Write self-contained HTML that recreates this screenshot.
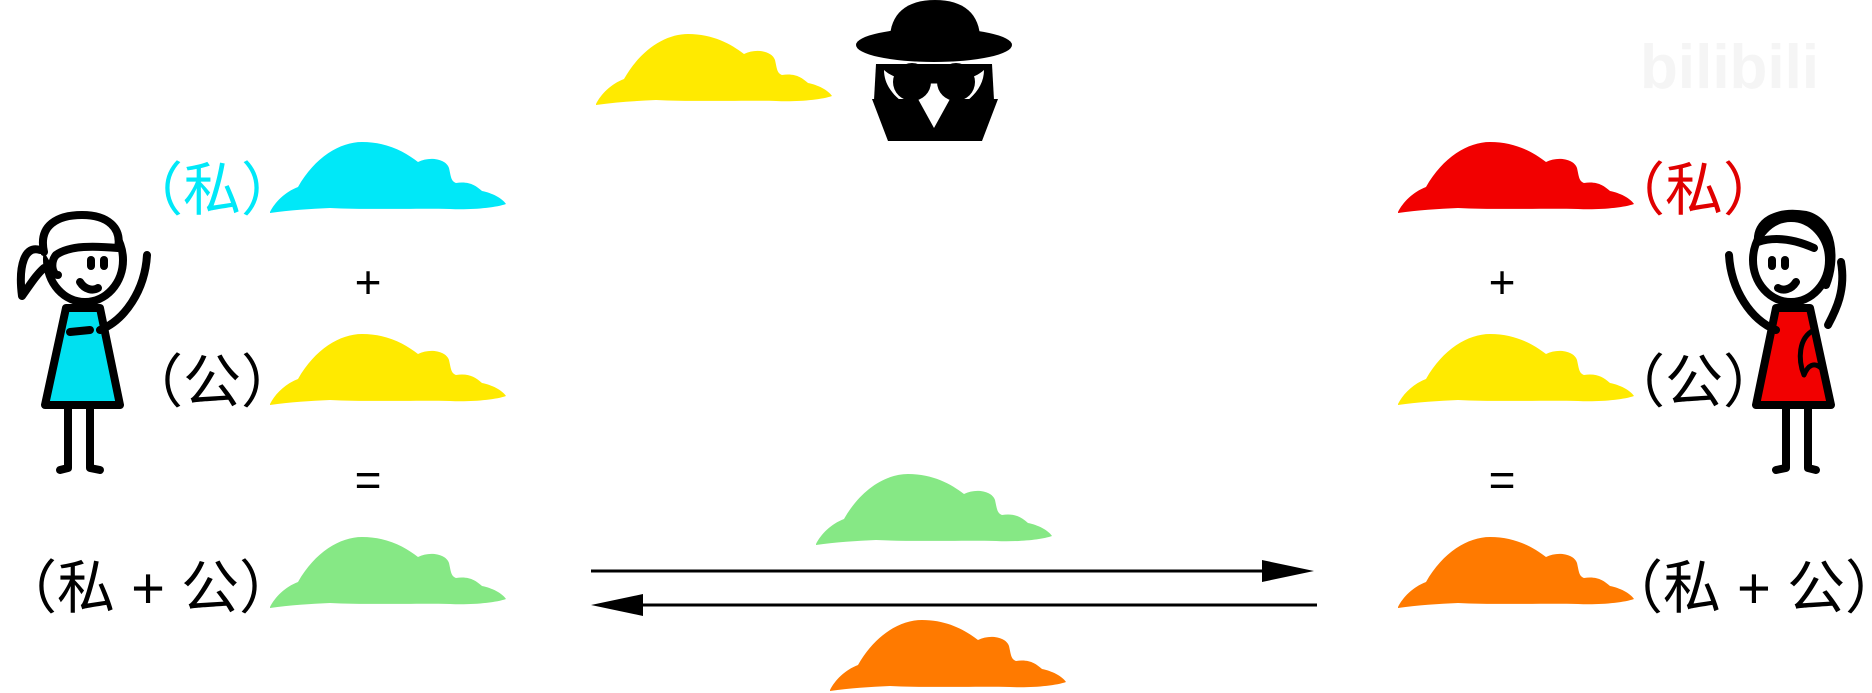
<!DOCTYPE html>
<html><head><meta charset="utf-8"><style>
html,body{margin:0;padding:0;background:#fff;width:1872px;height:693px;overflow:hidden}
svg{display:block}
text{font-family:"Liberation Sans","Noto Sans CJK SC",sans-serif}
</style></head><body>
<svg width="1872" height="693" viewBox="0 0 1872 693">
<defs>
<path id="blob" d="M0,70 C5,60 15,50 28,45 C45,15 70,0 92,0 C117,0 135,10 148,20 C160,14 176,17 179,26 C181,35 181,39 186,41 C200,39 206,44 212,49 C222,51 232,56 236,62 C225,66 200,68 180,67 C150,66 100,68 60,66 C40,67 20,68 0,71 Z"/>
</defs>
<!-- watermark -->
<text x="1640" y="88" font-size="62" font-weight="bold" fill="#f5f5f5">bilibili</text>
<!-- left paints -->
<g><use href="#blob" transform="translate(270,142)" fill="#00e8f8"/></g>
<g><use href="#blob" transform="translate(270,334)" fill="#ffea00"/></g>
<g><use href="#blob" transform="translate(270,537)" fill="#86e885"/></g>
<!-- right paints -->
<g><use href="#blob" transform="translate(1398,142)" fill="#f20000"/></g>
<g><use href="#blob" transform="translate(1398,334)" fill="#ffea00"/></g>
<g><use href="#blob" transform="translate(1398,537)" fill="#ff7a00"/></g>
<!-- middle paints -->
<g><use href="#blob" transform="translate(596,34)" fill="#ffea00"/></g>
<g><use href="#blob" transform="translate(816,474)" fill="#86e885"/></g>
<g><use href="#blob" transform="translate(830,620)" fill="#ff7a00"/></g>
<!-- arrows -->
<g>
<line x1="591" y1="571" x2="1270" y2="571" stroke="#000" stroke-width="3"/>
<polygon points="1262,560 1314,571 1262,582" fill="#000"/>
</g>
<g>
<line x1="635" y1="605" x2="1317" y2="605" stroke="#000" stroke-width="3"/>
<polygon points="643,594 591,605 643,616" fill="#000"/>
</g>
<!-- spy -->
<g>
<path d="M890,45 C888,15 905,0 935,0 C965,0 982,15 980,45 Z" fill="#000"/>
<ellipse cx="934" cy="45" rx="78" ry="17" fill="#000"/>
<path d="M876,64 L992,64 L994,100 L874,100 Z" fill="#000"/>
<path d="M884,70 C884,92 905,108 934,118 C963,108 984,92 984,70 C965,88 903,88 884,70 Z" fill="#fff"/>
<circle cx="912" cy="82" r="19" fill="#000"/>
<circle cx="956" cy="82" r="19" fill="#000"/>
<path d="M872,99 L918,99 L934,128 L950,99 L998,99 L982,141 L888,141 Z" fill="#000"/>
</g>
<!-- alice -->
<g stroke="#000" stroke-width="8" stroke-linecap="round" stroke-linejoin="round">
<path d="M66,308 L100,308 L120,405 L45,405 Z" fill="#00e0f0"/>
<path d="M100,330 C125,320 145,290 147,255" fill="none"/>
<line x1="70" y1="332" x2="90" y2="330"/>
<ellipse cx="85" cy="260" rx="38" ry="42" fill="#fff"/>
<path d="M44,252 C38,225 58,215 82,215 C108,215 122,228 118,248 C95,246 70,245 56,255 C50,262 52,275 58,275" fill="#fff"/>
<path d="M40,250 C25,245 18,265 22,296 C30,285 36,275 44,268" fill="#fff"/>
<line x1="91" y1="260" x2="91" y2="266"/>
<line x1="104" y1="260" x2="104" y2="266"/>
<path d="M80,282 C85,290 93,291 98,288" fill="none"/>
<path d="M68,405 L68,468 L60,470" fill="none"/>
<path d="M90,405 L90,468 L100,470" fill="none"/>
</g>
<!-- bob -->
<g transform="translate(1876,0) scale(-1,1)" stroke="#000" stroke-width="8" stroke-linecap="round" stroke-linejoin="round">
<path d="M66,308 L100,308 L120,405 L45,405 Z" fill="#f20000"/>
<path d="M100,330 C125,320 145,290 147,255" fill="none"/>
<path d="M62,330 C78,338 78,360 72,375 C68,365 62,362 55,368" fill="none" stroke-width="5"/>
<ellipse cx="85" cy="260" rx="38" ry="42" fill="#fff"/>
<path d="M50,285 C40,260 42,222 70,215 C100,210 120,222 118,242 C100,236 80,240 62,248" fill="none"/>
<path d="M35,262 C30,290 40,310 48,325" fill="none"/>
<line x1="91" y1="260" x2="91" y2="266"/>
<line x1="104" y1="260" x2="104" y2="266"/>
<path d="M80,282 C85,290 93,291 98,288" fill="none"/>
<path d="M68,405 L68,468 L60,470" fill="none"/>
<path d="M90,405 L90,468 L100,470" fill="none"/>
</g>
<!-- left labels -->
<text x="212" y="210" font-size="58" fill="#00e8f8" text-anchor="middle">（私）</text>
<text x="368" y="298" font-size="46" fill="#000" text-anchor="middle">+</text>
<text x="212" y="402" font-size="58" fill="#000" text-anchor="middle">（公）</text>
<text x="368" y="496" font-size="46" fill="#000" text-anchor="middle">=</text>
<text x="148" y="608" font-size="58" fill="#000" text-anchor="middle">（私 + 公）</text>
<!-- right labels -->
<text x="1694" y="210" font-size="58" fill="#e00000" text-anchor="middle">（私）</text>
<text x="1502" y="298" font-size="46" fill="#000" text-anchor="middle">+</text>
<text x="1694" y="402" font-size="58" fill="#000" text-anchor="middle">（公）</text>
<text x="1502" y="496" font-size="46" fill="#000" text-anchor="middle">=</text>
<text x="1754" y="608" font-size="58" fill="#000" text-anchor="middle">（私 + 公）</text>
</svg>
</body></html>
